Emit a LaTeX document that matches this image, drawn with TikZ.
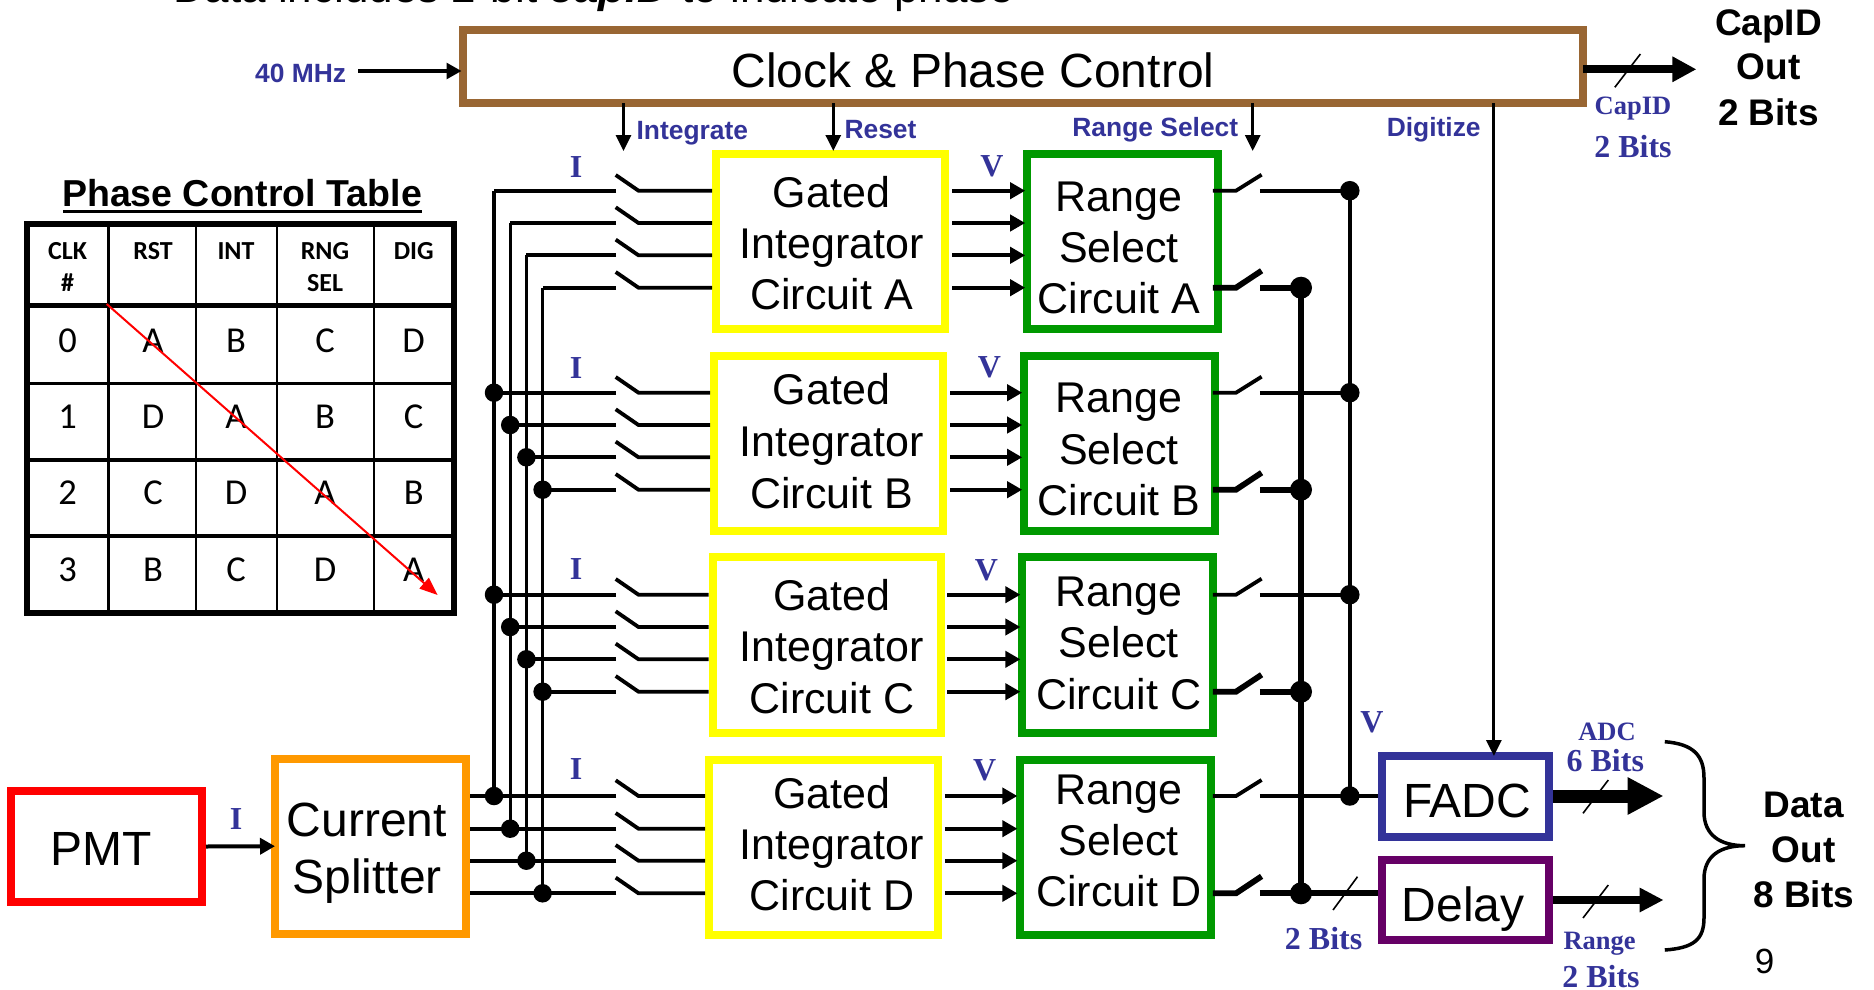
\documentclass[tikz,border=0pt]{standalone}
\usepackage{fontspec}
\setmainfont{Liberation Sans}
\newfontfamily\tmsf{Liberation Serif}
\newfontfamily\carl{Carlito}
\usetikzlibrary{arrows.meta,calc}
\definecolor{cbrown}{HTML}{996633}
\definecolor{cyel}{HTML}{FFFF00}
\definecolor{cgrn}{HTML}{009900}
\definecolor{corg}{HTML}{FF9900}
\definecolor{cblu}{HTML}{333399}
\definecolor{cpur}{HTML}{660066}
\newcommand{\fsz}[1]{\fontsize{#1}{#1}\selectfont}
\newcommand{\bxx}[6]{% name, colour, x1,y1,x2,y2 (centre line of the border)
  \pgfmathsetmacro{\bw}{#5-#3}\pgfmathsetmacro{\bh}{#6-#4}
  \node[boxx,draw=#2,minimum width=\bw pt,minimum height=\bh pt] (#1) at ({(#3+#5)/2},{(#4+#6)/2}) {};}
\tikzset{
  boxx/.style={rectangle,fill=white,line width=8pt,inner sep=0pt},
  txt/.style={anchor=base,inner sep=0pt,outer sep=0pt,black,yshift=-1pt},
  big/.style={txt,font=\fsz{48}},
  mid/.style={txt,font=\fsz{43}},
  head/.style={txt,font=\fsz{37}\bfseries},
  sigl/.style={txt,text=cblu,font=\fsz{26.4}\bfseries},
  sers/.style={txt,text=cblu,font=\tmsf\fsz{26.5}\bfseries},
  serb/.style={txt,text=cblu,font=\tmsf\fsz{32}\bfseries},
  tabh/.style={txt,font=\carl\fsz{26}\bfseries},
  tabb/.style={txt,font=\carl\fsz{36.5}},
  wire/.style={line width=3.8pt,black},
  bus/.style={line width=3.4pt,black,line cap=square},
  tbus/.style={line width=5.8pt,black},
  slash/.style={line width=1.6pt,black},
  arr/.style={wire,-{Triangle[length=15pt,width=16pt]}},
  ctl/.style={line width=3pt,black,-{Triangle[length=16pt,width=15pt]}},
  dot/.style={circle,fill=black,inner sep=0pt,minimum size=18.5pt},
  bdot/.style={circle,fill=black,inner sep=0pt,minimum size=22pt},
}
\begin{document}
\begin{tikzpicture}[x=1pt,y=-1pt]
\useasboundingbox (0,0) rectangle (1874,990);
% boxes
\bxx{Clock}{cbrown}{462.5}{30}{1583}{103}
\bxx{GA}{cyel}{716}{154}{945}{329}
\bxx{GB}{cyel}{714}{356}{942.5}{531}
\bxx{GC}{cyel}{712.6}{557.3}{940.8}{733}
\bxx{GD}{cyel}{709}{760}{937.8}{934.7}
\bxx{RA}{cgrn}{1026.8}{154}{1217.7}{329}
\bxx{RB}{cgrn}{1024.4}{356}{1215.3}{531}
\bxx{RC}{cgrn}{1022}{557.3}{1213}{733}
\bxx{RD}{cgrn}{1020.2}{760}{1211.2}{934.7}
\bxx{PMT}{red}{11}{790.7}{202}{902.3}
\bxx{Split}{corg}{275}{758.7}{466}{933.7}
\bxx{FADC}{cblu}{1381.8}{756.3}{1548.9}{836.7}
\bxx{Delay}{cpur}{1381.8}{859.7}{1548.9}{940.3}
% top line
\node[txt,anchor=base west,font=\fsz{44}] (toptext) at (173,2) {Data includes 2-bit \textbf{\textit{capID}} to indicate phase};
% box texts
\node[big] (tclock) at (973,86.7) {Clock \& Phase Control};
\node[big] (tpmt) at (100.7,864) {PMT};
\node[big] (tcur) at (367,835) {Current};
\node[big] (tspl) at (367,892.7) {Splitter};
\node[big] (tfadc) at (1467,816) {FADC};
\node[big] (tdel) at (1463,920) {Delay};
\foreach \c/\a/\b/\d/\x in {A/206.7/257/308/831.5,B/403/455/507/831.5,C/609/660.7/712/832,D/807/858/909/832}{
  \node[mid] (g1\c) at (\x,\a) {Gated};
  \node[mid] (g2\c) at (\x,\b) {Integrator};
  \node[mid] (g3\c) at (\x,\d) {Circuit \c};
}
\foreach \c/\a/\b/\d/\x in {A/210/261.7/312/1119,B/411.7/463/514/1119,C/605/656.7/708.3/1118.7,D/803/854/905.7/1118.7}{
  \node[mid] (r1\c) at (\x,\a) {Range};
  \node[mid] (r2\c) at (\x,\b) {Select};
  \node[mid] (r3\c) at (\x,\d) {Circuit \c};
}
% bus coordinates
\coordinate (bus1) at (494,0);
\coordinate (bus2) at (510.2,0);
\coordinate (bus3) at (526.4,0);
\coordinate (bus4) at (542.6,0);
\coordinate (vbus) at (1349.8,0);
\coordinate (rbus) at (1301,0);
% rows
\foreach \c/\ya/\yb/\yc/\yd/\vs/\ve in {A/190.7/223/255.3/287.7/952/1025.2,B/392.7/425/457.3/489.7/950/1022.2,C/594.7/627/659.3/691.7/947/1020.4,D/796/828.7/860.7/893.3/944.8/1017.4}{
  \foreach \i/\y in {1/\ya,2/\yb,3/\yc,4/\yd}{
    \coordinate (L\c\i) at (616,\y);
    \coordinate (M\c\i) at (638.5,\y);
    \coordinate (T\c\i) at (615.7,\y-15.7);
    \coordinate (VS\c\i) at (\vs,\y);
    \coordinate (VE\c\i) at (\ve,\y);
    \draw[wire] (T\c\i) -- (M\c\i) -- (M\c\i -| G\c.west);
    \draw[arr] (VS\c\i) -- (VE\c\i);
    \draw[wire] (L\c\i) -- (L\c\i -| bus\i);
  }
  % range outputs
  \coordinate (OA\c) at (1212.8,\ya);
  \coordinate (OB\c) at (1236,\ya);
  \coordinate (OT\c) at (1261.6,\ya-16);
  \coordinate (OC\c) at (1259.8,\ya);
  \draw[wire] (OA\c) -- (OB\c) -- (OT\c);
  \draw[wire] (OC\c) -- (OC\c -| vbus);
  \coordinate (PA\c) at (1212.8,\yd);
  \coordinate (PB\c) at (1236,\yd);
  \coordinate (PT\c) at (1261.6,\yd-17);
  \coordinate (PC\c) at (1259.8,\yd);
  \draw[tbus] (PA\c) -- (PB\c) -- (PT\c);
  \draw[tbus] (PC\c) -- (PC\c -| rbus);
}
% vertical buses and dots
\foreach \i in {1,2,3,4}{
  \draw[bus] (LA\i -| bus\i) -- (LD\i -| bus\i);
  \draw[wire] (LD\i) -- (LD\i -| Split.east);
  \foreach \c in {B,C,D}{
    \node[dot] (d\c\i) at (L\c\i -| bus\i) {};
  }
}
\draw[wire] (OCA -| vbus) -- (OCD -| vbus);
\draw[tbus] (PCA -| rbus) -- (PCD -| rbus);
\foreach \c in {A,B,C,D}{
  \node[dot,minimum size=19.5pt] (vd\c) at (OC\c -| vbus) {};
  \node[bdot] (rd\c) at (PC\c -| rbus) {};
}
\draw[wire] (OCD -| vbus) -- (OCD -| FADC.west);
\draw[tbus] (PCD -| rbus) -- (PCD -| Delay.west);
\coordinate (s1a) at (1333,910); \coordinate (s1b) at (1357.5,876.7);
\draw[slash] (s1a) -- (s1b);
% control arrows
\coordinate (cint) at (623.5,103); \coordinate (cint2) at (623.5,151);
\coordinate (crst) at (833.3,103); \coordinate (crst2) at (833.3,151);
\coordinate (crng) at (1252.7,103); \coordinate (crng2) at (1252.7,151);
\coordinate (cdig) at (1493.9,103); \coordinate (cdig2) at (1493.9,756);
\draw[ctl] (cint) -- (cint2);
\draw[ctl] (crst) -- (crst2);
\draw[ctl] (crng) -- (crng2);
\draw[ctl] (cdig) -- (cdig2);
\coordinate (clk) at (358,71); \coordinate (clk2) at (461.6,71);
\draw[wire,-{Triangle[length=15pt,width=15.5pt]}] (clk) -- (clk2);
% capid out
\coordinate (cap1) at (1583.2,69.3); \coordinate (cap2) at (1696.4,69.3);
\draw[line width=8pt,-{Triangle[length=24pt,width=24pt]}] (cap1) -- (cap2);
\coordinate (s2a) at (1614.8,87.3); \coordinate (s2b) at (1640.4,54);
\draw[slash] (s2a) -- (s2b);
% PMT to splitter
\draw[line width=4pt,-{Triangle[length=15pt,width=16pt]}] (PMT.east) -- ($(Split.west)+(4,0)$);
% FADC / Delay outputs
\coordinate (fo) at (1663.6,796);
\draw[line width=13pt,-{Triangle[length=36pt,width=35pt]}] (FADC.east |- fo) -- (fo);
\coordinate (s3a) at (1583,813.3); \coordinate (s3b) at (1608.3,780);
\draw[slash] (s3a) -- (s3b);
\coordinate (dl) at (1663.6,900);
\draw[line width=7.5pt,-{Triangle[length=24pt,width=23pt]}] (Delay.east |- dl) -- (dl);
\coordinate (s4a) at (1583,918); \coordinate (s4b) at (1608.3,885);
\draw[slash] (s4a) -- (s4b);
% brace
\draw[line width=3.5pt] (1664.8,741.7) .. controls (1693,744) and (1704,755) .. (1704,778) -- (1704,812)
  .. controls (1704,835) and (1720,845.7) .. (1745,845.7)
  .. controls (1720,845.7) and (1704,856) .. (1704,879) -- (1704,918)
  .. controls (1704,940) and (1693,948) .. (1664.8,950);
% blue labels
\node[sigl] (l40) at (300.6,81.7) {40 MHz};
\node[sigl] (lint) at (692.3,138) {Integrate};
\node[sigl] (lrst) at (880.5,137) {Reset};
\node[sigl] (lrng) at (1155.3,135.7) {Range Select};
\node[sigl] (ldig) at (1433.7,135.7) {Digitize};
\node[sers] (lcap) at (1633,113) {CapID};
\node[serb] (lcapb) at (1633,156.7) {2 Bits};
\foreach \n/\x/\y in {a/576/176.7,b/576/377,c/576/578,d/576/778,p/236/828}{
  \node[serb] (I\n) at (\x,\y) {I};
}
\foreach \n/\x/\y in {a/991.8/175,b/989.4/376.7,c/986.5/579,d/984.7/779,f/1371.8/731.7}{
  \node[serb] (V\n) at (\x,\y) {V};
}
\node[sers] (ladc) at (1607,739.5) {ADC};
\node[serb] (l6b) at (1605.3,770) {6 Bits};
\node[sers] (lrange) at (1599.6,948) {Range};
\node[serb] (l2r) at (1601,986.5) {2 Bits};
\node[serb] (l2b) at (1323.6,948) {2 Bits};
% black bold
\node[head] (co1) at (1768.5,35) {CapID};
\node[head] (co2) at (1768.5,79) {Out};
\node[head] (co3) at (1768.5,124) {2 Bits};
\node[head] (do1) at (1803.6,816.7) {Data};
\node[head] (do2) at (1803.6,861.7) {Out};
\node[head] (do3) at (1803.6,906) {8 Bits};
\node[txt,font=\fsz{35}] (pg) at (1764.5,972.5) {9};
% table
\node[txt,font=\fsz{37.5}\bfseries] (ptitle) at (242,205) {Phase Control Table};
\draw[line width=3.5pt] (63,211.5) -- (421.5,211.5);
\draw[line width=6pt] (27,224) rectangle (454.4,612.7);
\foreach \y/\w in {305.3/4.5,383.3/3.5,460/3.5,536/3.5}{
  \draw[line width=\w pt] (27,\y) -- (454.4,\y);
}
\foreach \x/\w in {108.5/3.2,196/2.5,277/2.5,374/2.5}{
  \draw[line width=\w pt] (\x,224) -- (\x,612.7);
}
\node[tabh] (h1a) at (67.7,258) {CLK};
\node[tabh] (h1b) at (67.7,290.7) {\#};
\node[tabh] (h2) at (153,258) {RST};
\node[tabh] (h3) at (236,258) {INT};
\node[tabh] (h4a) at (325,258) {RNG};
\node[tabh] (h4b) at (325,290.7) {SEL};
\node[tabh] (h5) at (413.7,258) {DIG};
\foreach \r/\y/\p/\q/\s/\t/\u in {a/351.7/0/A/B/C/D,b/427.3/1/D/A/B/C,c/503.5/2/C/D/A/B,d/580/3/B/C/D/A}{
  \node[tabb] (c\r1) at (67.7,\y) {\p};
  \node[tabb] (c\r2) at (153,\y) {\q};
  \node[tabb] (c\r3) at (236,\y) {\s};
  \node[tabb] (c\r4) at (325,\y) {\t};
  \node[tabb] (c\r5) at (413.7,\y) {\u};
}
\coordinate (ra) at (106.7,304); \coordinate (rb) at (437.6,595);
\draw[red,line width=2pt,-{Triangle[length=18pt,width=14pt]}] (ra) -- (rb);
\end{tikzpicture}
\end{document}
